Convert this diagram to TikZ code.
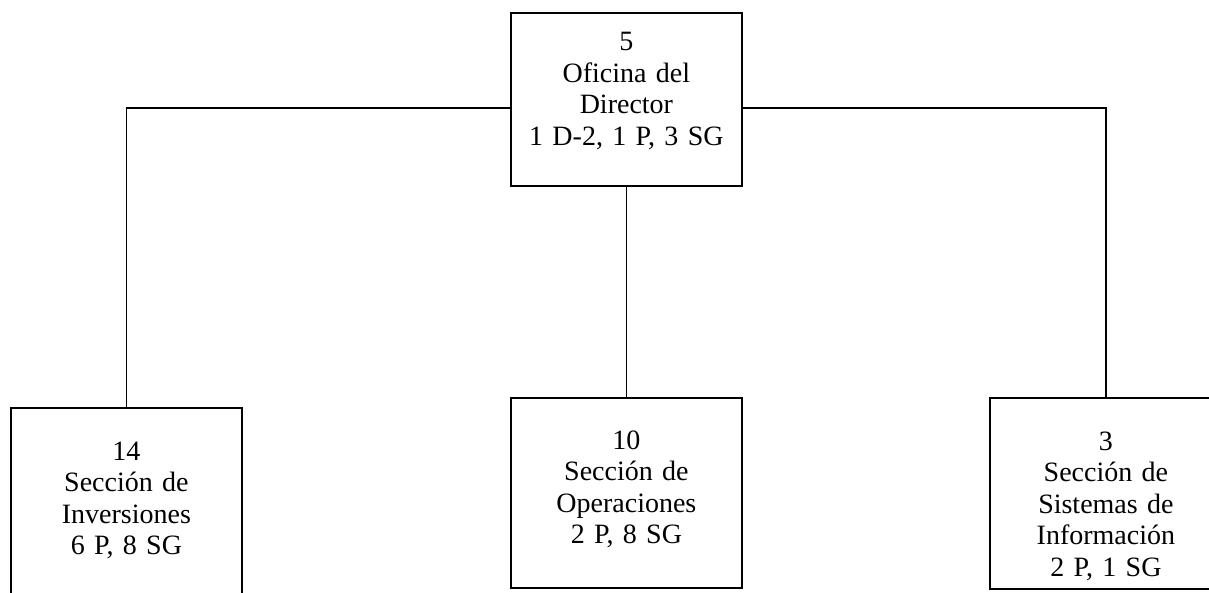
\documentclass[tikz,border=0pt]{standalone}
\usepackage{fontspec}
\setmainfont{Liberation Serif}
\usetikzlibrary{calc}
\tikzset{unitbox/.style={draw, line width=1.8pt, minimum width=231pt, minimum height=190pt, inner sep=0pt, anchor=north west},
  unittext/.style={align=center, anchor=base, text width=225pt, inner sep=0pt, font=\fontsize{28}{31.5}\selectfont}}

\begin{document}
\begin{tikzpicture}[x=1pt, y=-1pt, line width=1.8pt]
  \useasboundingbox (0,0) rectangle (1209,593);

  \node[unitbox, minimum height=173pt] (dir) at (510,12) {};
  \node[unitbox, minimum height=200pt] (inv) at (10,407) {};
  \node[unitbox] (ops) at (510,397) {};
  \node[unitbox, minimum width=232pt, minimum height=191pt] (sis) at (989,397) {};

  \node[unittext] (dirtext) at ($(dir.north)+(0,39)$) {5\\Oficina del\\Director\\1 D-2, 1 P, 3 SG};
  \node[unittext] (invtext) at ($(inv.north)+(0,53)$) {14\\Sección de\\Inversiones\\6 P, 8 SG};
  \node[unittext] (opstext) at ($(ops.north)+(0,52)$) {10\\Sección de\\Operaciones\\2 P, 8 SG};
  \node[unittext] (sistext) at ($(sis.north)+(0,53)$) {3\\Sección de\\Sistemas de\\Información\\2 P, 1 SG};

  \draw ([yshift=-8.5pt]dir.west) -| (inv.north);
  \draw (dir.south) -- (ops.north);
  \draw ([yshift=-8.5pt]dir.east) -| (sis.north);
\end{tikzpicture}
\end{document}
